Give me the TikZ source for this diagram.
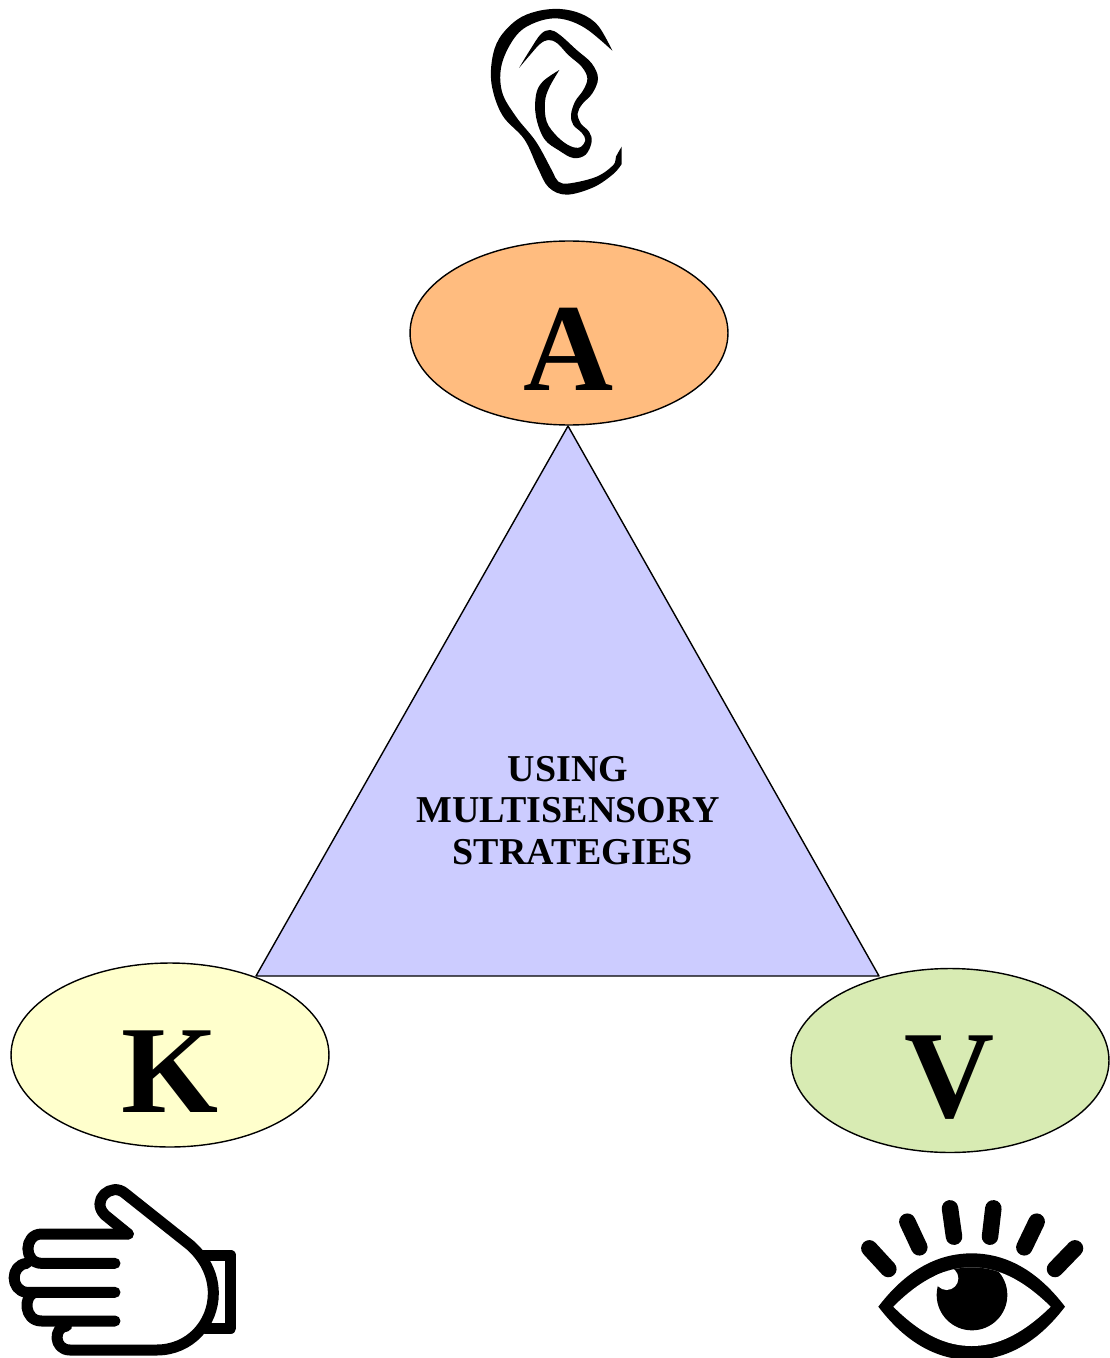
\documentclass[tikz,border=0pt]{standalone}
\usepackage{fontspec}
\setmainfont{Liberation Serif}
\usetikzlibrary{shapes.geometric}
\definecolor{cpeach}{HTML}{FFBC7F}
\definecolor{cyellow}{HTML}{FFFFCC}
\definecolor{cgreen}{HTML}{D8EBB3}
\definecolor{clilac}{HTML}{CCCCFF}
\tikzset{
  every picture/.style={line width=0.8pt},
  sense/.style={ellipse, draw=black, fill=#1, minimum width=6.36cm, minimum height=3.68cm, inner sep=0pt, text height=65pt, text depth=0pt, font=\fontsize{71}{71}\selectfont\bfseries},
  title/.style={font=\fontsize{21.6}{23.8}\selectfont\bfseries, align=center},
  hand/.style={draw=black, line width=0.22cm, line cap=round, line join=round},
  lash/.style={draw=black, line width=0.33cm, line cap=round},
}
\begin{document}
\begin{tikzpicture}[x=0.02cm, y=-0.02cm]
  \useasboundingbox (0,0) rectangle (1109,1358);
  \node[sense=cpeach] (a) at (569,333) {A};
  \node[sense=cyellow] (k) at (170,1055) {K};
  \node[sense=cgreen] (v) at (950,1060.5) {V};
  \coordinate (top) at (568,426);
  \coordinate (left) at (256,976);
  \coordinate (right) at (879,976);
  \draw[fill=clilac, line join=round] (top) -- (left) -- (right) -- cycle;
  \node[title] (t) at (568,810.5) {USING\\MULTISENSORY\\ \hspace{0.25em}STRATEGIES};
  % ear
  \begin{scope}[shift={(470,0)}, scale=1/3]
    \fill plot[smooth, tension=0.6] coordinates {(427,152) (385,78) (335,42) (270,27) (200,34) (140,60) (88,115) (66,180) (66,260) (98,347) (163,418) (203,503) (236,562) (290,584) (370,562) (430,522) (455,492)}
      -- (455,440) -- plot[smooth, tension=0.6] coordinates {(455,440) (438,470) (430,495) (380,530) (300,550) (265,545) (245,510) (198,425) (138,350) (96,275) (96,190) (140,105) (200,66) (270,56) (345,84) (427,152)} -- cycle;
    \fill plot[smooth, tension=0.6] coordinates {(147,204) (180,150) (212,103) (240,90) (270,105) (320,150) (365,190) (384,235) (367,280) (337,312) (323,340) (332,370) (357,395) (365,425) (347,464) (310,474) (268,452) (223,417) (198,350) (198,285) (218,245) (268,210)}
      -- plot[smooth, tension=0.6] coordinates {(268,210) (238,262) (225,305) (230,365) (262,410) (300,438) (330,442) (346,420) (335,398) (310,375) (303,345) (315,305) (340,270) (352,235) (335,200) (295,165) (262,130) (235,120) (210,132) (180,165) (147,204)} -- cycle;
  \end{scope}
  % hand
  \begin{scope}[shift={(0,1170)}, scale=1/3]
    \draw[hand] (385,192) -- (125,192) .. controls (70,192) and (70,280) .. (125,280) -- (345,280);
    \draw[hand] (80,280) .. controls (30,285) and (30,362) .. (80,367) -- (345,367);
    \draw[hand] (105,367) .. controls (70,375) and (70,453) .. (125,453) -- (345,453);
    \draw[hand] (200,468) .. controls (160,470) and (160,540) .. (210,540) -- (470,540)
      .. controls (570,540) and (640,460) .. (640,370) .. controls (640,310) and (610,260) .. (570,225)
      -- (375,70) .. controls (335,35) and (270,90) .. (315,135) -- (385,192);
    \draw[hand] (600,255) -- (692,255) -- (692,475) -- (615,475);
  \end{scope}
  % eye
  \begin{scope}[shift={(850,1190)}, scale=1/3]
    \foreach \xa/\ya/\xb/\yb in {58/175/115/237, 172/95/208/172, 300/55/312/140, 430/55/420/140, 560/95/523/172, 675/175/615/237}
      \draw[lash] (\xa,\ya) -- (\xb,\yb);
    \fill (85,350) .. controls (180,225) and (280,190) .. (365,190) .. controls (450,190) and (550,225) .. (645,350)
      .. controls (550,475) and (450,510) .. (365,510) .. controls (280,510) and (180,475) .. (85,350) -- cycle;
    \begin{scope}
      \path[clip] (130,350) .. controls (215,265) and (290,232) .. (365,232) .. controls (440,232) and (515,265) .. (602,350)
        .. controls (515,435) and (440,468) .. (365,468) .. controls (290,468) and (215,435) .. (130,350) -- cycle;
      \fill[white] (0,150) rectangle (700,550);
      \fill (366,315) circle (106);
      \fill[white] (290,265) circle (35);
    \end{scope}
  \end{scope}
\end{tikzpicture}
\end{document}
